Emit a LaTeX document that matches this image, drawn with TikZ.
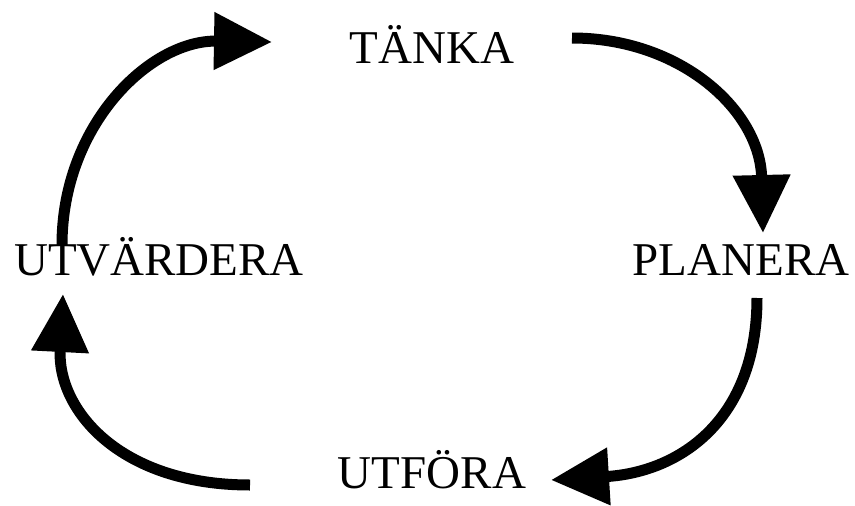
\documentclass[tikz,border=0pt]{standalone}
\usepackage{fontspec}
\setmainfont{Liberation Serif}
\usetikzlibrary{arrows.meta}
\begin{document}
\begin{tikzpicture}[x=1pt,y=-1pt]
        \tikzstyle{phase}=[inner sep=0pt,anchor=base,font=\fontsize{47}{56}\selectfont]
        \tikzstyle{cycle}=[draw=black,line width=11pt,-{Triangle[length=58pt,width=55pt]}]
        \useasboundingbox (0,0) rectangle (855,506);
       \begin{scope}
         \node [phase] (tanka) at (432,63) {TÄNKA};
         \node [phase] (planera) at (741,275) {PLANERA};
         \node [phase] (utfora) at (432,488) {UTFÖRA};
         \node [phase] (utvardera) at (159,275) {UTVÄRDERA};
         % ends of the four bends
         \coordinate (v1) at (62,245);   \coordinate (t0) at (272,42);
         \coordinate (t1) at (572,38);   \coordinate (p0) at (763,233);
         \coordinate (p1) at (757,298);  \coordinate (u0) at (551,480);
         \coordinate (u1) at (250,485);  \coordinate (v0) at (63,294);
         \path[cycle] (v1) .. controls (62,125) and (150,40) .. (t0);
         \path[cycle] (t1) .. controls (680,38) and (760,110) .. (p0);
         \path[cycle] (p1) .. controls (757,420) and (680,472) .. (u0);
         \path[cycle] (u1) .. controls (120,485) and (57,410) .. (v0);
        \end{scope}
      \end{tikzpicture}
\end{document}
